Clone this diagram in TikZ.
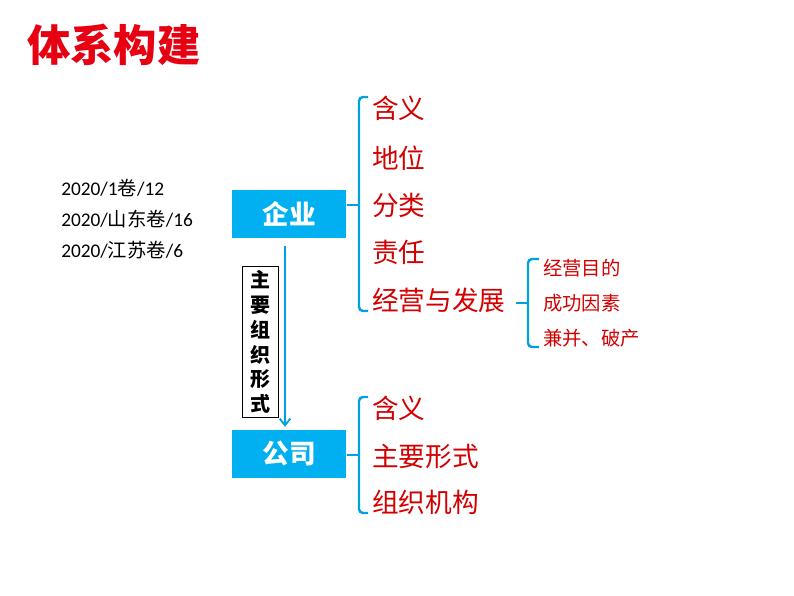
\documentclass[tikz,border=0pt]{standalone}
\usepackage{fontspec}
\setmainfont{Carlito}
\newfontfamily\cjk{Noto Sans CJK SC}
\usetikzlibrary{arrows.meta, positioning, calc}
\definecolor{titlered}{RGB}{230, 0, 18}
\definecolor{boxcyan}{RGB}{0, 176, 240}
\definecolor{bracecyan}{RGB}{0, 160, 225}
\definecolor{itemred}{RGB}{210, 0, 0}

\tikzset{
  catbox/.style={fill=boxcyan, text=white, minimum width=86pt, minimum height=36pt, font=\cjk\fontsize{20}{22}\selectfont\bfseries},
  itembig/.style={anchor=west, text=itemred, inner sep=0pt, font=\cjk\fontsize{20}{22}\selectfont},
  itemsmall/.style={anchor=west, text=itemred, inner sep=0pt, font=\cjk\fontsize{14.5}{16}\selectfont},
  yeartext/.style={anchor=west, inner sep=0pt, font=\fontsize{14.5}{16}\selectfont},
  bracepath/.style={draw=bracecyan, line width=1.8pt, rounded corners=3pt}
}

\begin{document}
\begin{tikzpicture}[x=0.75pt, y=-0.75pt]
  \useasboundingbox (0,0) rectangle (794,596);

  % Title
  \node[text=titlered, font=\cjk\fontsize{32.5}{36}\selectfont\bfseries] (title) at (114,45) {体系构建};

  % Exam sources
  \node[yeartext] (y1) at (61,188) {2020/1{\cjk 卷}/12};
  \node[yeartext] (y2) at (61,219) {2020/{\cjk 山东卷}/16};
  \node[yeartext] (y3) at (61,250) {2020/{\cjk 江苏卷}/6};

  % Main boxes
  \node[catbox] (firm) at (289,214) {企业};
  \node[catbox] (corp) at (289,454) {公司};

  % Arrow firm -> corp with label
  \draw[-{Straight Barb[length=5pt, width=8pt]}, draw=bracecyan, line width=1.4pt] ($(firm.south)+(-4,8)$) -- ($(corp.north)+(-4,-3)$);
  \node[draw=black, fill=white, inner xsep=6pt, inner ysep=3pt, align=center, font=\cjk\fontsize{15}{18.6}\selectfont\bfseries] (form) at (260,342) {主\\要\\组\\织\\形\\式};

  % Firm items
  \node[itembig] (f1) at (372,108) {含义};
  \node[itembig] (f2) at (372,158) {地位};
  \node[itembig] (f3) at (372,205) {分类};
  \node[itembig] (f4) at (372,252) {责任};
  \node[itembig] (f5) at (372,300) {经营与发展};

  % Development items
  \node[itemsmall] (d1) at (543,268) {经营目的};
  \node[itemsmall] (d2) at (543,303) {成功因素};
  \node[itemsmall] (d3) at (543,338) {兼并、破产};

  % Company items
  \node[itembig] (c1) at (372,408) {含义};
  \node[itembig] (c2) at (372,456) {主要形式};
  \node[itembig] (c3) at (372,502) {组织机构};

  % Braces
  \coordinate (fb) at (359,205);
  \draw[bracepath] ($(f1.west)+(-4,-11)$) -| ($(fb)+(0,0)$) |- ($(f5.west)+(-4,11)$);
  \draw[draw=bracecyan, line width=1.8pt] (fb) -- ++(-12,0);

  \coordinate (db) at (528,303);
  \draw[bracepath] ($(d1.west)+(-4,-9)$) -| (db) |- ($(d3.west)+(-4,9)$);
  \draw[draw=bracecyan, line width=1.8pt] (db) -- ++(-12,0);

  \coordinate (cb) at (359,455);
  \draw[bracepath] ($(c1.west)+(-4,-11)$) -| (cb) |- ($(c3.west)+(-4,11)$);
  \draw[draw=bracecyan, line width=1.8pt] (cb) -- ++(-12,0);
\end{tikzpicture}
\end{document}
